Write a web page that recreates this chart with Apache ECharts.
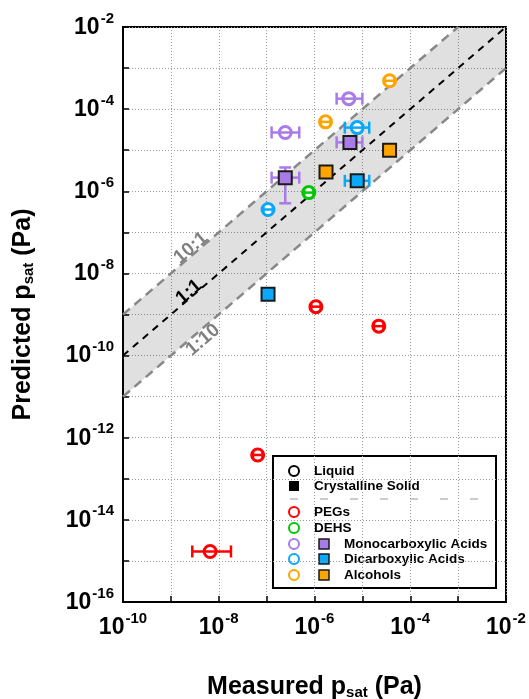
<!DOCTYPE html>
<html><head><meta charset="utf-8">
<script src="https://cdn.jsdelivr.net/npm/echarts@6/dist/echarts.min.js"></script>
<style>html,body{margin:0;padding:0;background:#fff}#c{width:529px;height:699px}</style>
</head><body><div id="c"></div>
<script>
// ---- data (Pa) ----
const pegX   = [6.6e-9, 6.5e-8, 1.07e-6, 2.2e-5];
const pegY   = [1.7e-15, 3.8e-13, 1.55e-9, 5.2e-10];
const pegXLo = [2.8e-9, 5.2e-8, 8.6e-7, 1.75e-5];
const pegXHi = [1.8e-8, 8.2e-8, 1.34e-6, 2.75e-5];

const dehsX   = [7.6e-7];
const dehsY   = [9.3e-7];
const dehsXLo = [6.1e-7];
const dehsXHi = [9.5e-7];

const monoLiqX   = [5.2e-6, 2.45e-7];
const monoLiqY   = [1.8e-4, 2.7e-5];
const monoLiqXLo = [2.9e-6, 1.27e-7];
const monoLiqXHi = [1.0e-5, 4.8e-7];
const monoSolX   = [5.5e-6, 2.45e-7];
const monoSolY   = [1.55e-5, 2.15e-6];
const monoSolXLo = [2.9e-6, 1.27e-7];
const monoSolXHi = [1.0e-5, 4.8e-7];
const monoSolYLo = [1.55e-5, 5.1e-7];
const monoSolYHi = [1.55e-5, 3.8e-6];

const diLiqX   = [7.8e-6, 1.07e-7];
const diLiqY   = [3.55e-5, 3.6e-7];
const diLiqXLo = [4.3e-6, 8.6e-8];
const diLiqXHi = [1.39e-5, 1.34e-7];
const diSolX   = [7.8e-6, 1.07e-7];
const diSolY   = [1.8e-6, 3.1e-9];
const diSolXLo = [4.3e-6, 1.07e-7];
const diSolXHi = [1.39e-5, 1.07e-7];

const alcLiqX   = [3.7e-5, 1.7e-6];
const alcLiqY   = [4.9e-4, 4.9e-5];
const alcLiqXLo = [2.95e-5, 1.36e-6];
const alcLiqXHi = [4.65e-5, 2.14e-6];
const alcSolX   = [3.7e-5, 1.74e-6];
const alcSolY   = [1.0e-5, 2.95e-6];

const line11  = [[1e-10, 1e-10], [1e-2, 1e-2]];
const line101 = [[1e-10, 1e-9], [1e-3, 1e-2]];
const line110 = [[1e-10, 1e-11], [1e-2, 1e-3]];
const bandPoly = [[1e-10, 1e-9], [1e-3, 1e-2], [1e-2, 1e-2], [1e-2, 1e-3], [1e-10, 1e-11]];

const xMin = 1e-10, xMax = 1e-2, yMin = 1e-16, yMax = 1e-2;

// ---- colours ----
const RED = '#ff0000', GREEN = '#00c800', PURPLE = '#a97be6', BLUE = '#0aa8f8', ORANGE = '#ffa500';

function zip(xs, ys) { return xs.map((x, i) => [x, ys[i]]); }
function errData(xs, ys, xlo, xhi, ylo, yhi) {
  return xs.map((x, i) => [x, ys[i], xlo ? xlo[i] : x, xhi ? xhi[i] : x, ylo ? ylo[i] : ys[i], yhi ? yhi[i] : ys[i]]);
}
function errSeries(data, color, z, cap) {
  return {
    type: 'custom', z: z, silent: true, clip: false,
    data: data,
    renderItem: function (params, api) {
      const x = api.value(0), y = api.value(1);
      const xl = api.value(2), xh = api.value(3), yl = api.value(4), yh = api.value(5);
      const st = { stroke: color, lineWidth: 2.5 };
      const ch = [];
      if (xh > xl) {
        const a = api.coord([xl, y]), b = api.coord([xh, y]);
        const c = (b[0] - a[0]) < 14 ? 3 : cap;
        ch.push({ type: 'line', shape: { x1: a[0], y1: a[1], x2: b[0], y2: b[1] }, style: st });
        ch.push({ type: 'line', shape: { x1: a[0], y1: a[1] - c, x2: a[0], y2: a[1] + c }, style: st });
        ch.push({ type: 'line', shape: { x1: b[0], y1: b[1] - c, x2: b[0], y2: b[1] + c }, style: st });
      }
      if (yh > yl) {
        const a = api.coord([x, yl]), b = api.coord([x, yh]);
        ch.push({ type: 'line', shape: { x1: a[0], y1: a[1], x2: b[0], y2: b[1] }, style: st });
        ch.push({ type: 'line', shape: { x1: a[0] - cap, y1: a[1], x2: a[0] + cap, y2: a[1] }, style: st });
        ch.push({ type: 'line', shape: { x1: b[0] - cap, y1: b[1], x2: b[0] + cap, y2: b[1] }, style: st });
      }
      return { type: 'group', children: ch };
    }
  };
}
function liqSeries(data, color) {
  return { type: 'scatter', z: 3, data: data, symbol: 'circle', symbolSize: 12,
    itemStyle: { color: '#fff', borderColor: color, borderWidth: 3, opacity: 1 }, silent: true };
}
function solSeries(data, color) {
  return { type: 'scatter', z: 6, data: data, symbol: 'rect', symbolSize: 13,
    itemStyle: { color: color, borderColor: '#1a1a1a', borderWidth: 2, opacity: 1 }, silent: true };
}

function expLabel(v) {
  const e = Math.round(Math.log10(v));
  if (e % 2 !== 0) return '';
  return '{b|10}{s|' + e + '}';
}
const FF = 'Liberation Sans, Arial, sans-serif';
const labelRich = {
  b: { fontSize: 23, fontWeight: 'bold', fontFamily: FF, color: '#000', verticalAlign: 'bottom', lineHeight: 24 },
  s: { fontSize: 15, fontWeight: 'bold', fontFamily: FF, color: '#000', verticalAlign: 'bottom', lineHeight: 24, padding: [0, 0, 13, 1] }
};
const nameRich = {
  n: { fontSize: 25, fontWeight: 'bold', fontFamily: FF, color: '#000' },
  sub: { fontSize: 15, fontWeight: 'bold', fontFamily: FF, color: '#000', padding: [11, 0, 0, 0] }
};

const chart = echarts.init(document.getElementById('c'), null, { renderer: 'canvas' });

const GL = 123, GT = 27, GW = 383, GH = 575;

const legendTxt = { fontSize: 13.5, fontWeight: 'bold', fontFamily: FF, fill: '#000' };
function ltext(x, y, t) { return { type: 'text', x: x, y: y, style: Object.assign({ text: t, verticalAlign: 'middle' }, legendTxt) }; }
function lcirc(x, y, c) { return { type: 'circle', shape: { cx: x, cy: y, r: 5 }, style: { fill: '#fff', stroke: c, lineWidth: 2 } }; }
function lsq(x, y, c) { return { type: 'rect', shape: { x: x - 5, y: y - 5, width: 10, height: 10 }, style: { fill: c, stroke: '#1a1a1a', lineWidth: 1.5 } }; }

const lineLabelStyle = { fontSize: 19, fontWeight: 'bold', fontFamily: FF, align: 'center', verticalAlign: 'middle' };
const ROT = Math.atan((GH / 14) / (GW / 8));

chart.setOption({
  animation: false,
  backgroundColor: '#fff',
  grid: { left: GL, top: GT, width: GW, height: GH, outerBoundsMode: 'none', containLabel: false,
    show: true, borderColor: '#000', borderWidth: 2, backgroundColor: 'transparent' },
  xAxis: {
    type: 'log', logBase: 10, min: xMin, max: xMax, interval: 1,
    name: '{n|Measured p}{sub|sat}{n| (Pa)}', nameLocation: 'middle', nameGap: 72,
    nameTextStyle: { rich: nameRich },
    axisLine: { show: true, lineStyle: { color: '#000', width: 2 } },
    axisTick: { show: true, inside: true, length: 6, lineStyle: { color: '#000', width: 1.5 } },
    axisLabel: { formatter: expLabel, rich: labelRich, margin: 13 },
    splitLine: { show: true, lineStyle: { color: '#999', type: [1, 2], width: 1 } },
    minorTick: { show: false }
  },
  yAxis: {
    type: 'log', logBase: 10, min: yMin, max: yMax, interval: 1,
    name: '{n|Predicted p}{sub|sat}{n| (Pa)}', nameLocation: 'middle', nameGap: 87, nameRotate: 90,
    nameTextStyle: { rich: nameRich },
    axisLine: { show: true, lineStyle: { color: '#000', width: 2 } },
    axisTick: { show: true, inside: true, length: 6, lineStyle: { color: '#000', width: 1.5 } },
    axisLabel: { formatter: expLabel, rich: labelRich, margin: 9 },
    splitLine: { show: true, lineStyle: { color: '#999', type: [1, 2], width: 1 } }
  },
  series: [
    {
      type: 'custom', z: 1, silent: true, data: [0],
      renderItem: function (params, api) {
        return { type: 'polygon', shape: { points: bandPoly.map(p => api.coord(p)) }, style: { fill: 'rgba(0,0,0,0.12)' } };
      }
    },
    { type: 'line', z: 2, data: line101, symbol: 'none', silent: true, lineStyle: { color: '#888', width: 2.5, type: [9, 6] } },
    { type: 'line', z: 2, data: line110, symbol: 'none', silent: true, lineStyle: { color: '#888', width: 2.5, type: [9, 6] } },
    { type: 'line', z: 2, data: line11, symbol: 'none', silent: true, lineStyle: { color: '#000', width: 2, type: [7, 6] } },

    liqSeries(zip(pegX, pegY), RED),
    liqSeries(zip(dehsX, dehsY), GREEN),
    liqSeries(zip(monoLiqX, monoLiqY), PURPLE),
    liqSeries(zip(diLiqX, diLiqY), BLUE),
    liqSeries(zip(alcLiqX, alcLiqY), ORANGE),

    errSeries(errData(pegX, pegY, pegXLo, pegXHi), RED, 4, 6),
    errSeries(errData(dehsX, dehsY, dehsXLo, dehsXHi), GREEN, 4, 6),
    errSeries(errData(monoLiqX, monoLiqY, monoLiqXLo, monoLiqXHi), PURPLE, 4, 6),
    errSeries(errData(diLiqX, diLiqY, diLiqXLo, diLiqXHi), BLUE, 4, 6),
    errSeries(errData(alcLiqX, alcLiqY, alcLiqXLo, alcLiqXHi), ORANGE, 4, 6),

    errSeries(errData(monoSolX, monoSolY, monoSolXLo, monoSolXHi, monoSolYLo, monoSolYHi), PURPLE, 5, 6),
    errSeries(errData(diSolX, diSolY, diSolXLo, diSolXHi), BLUE, 5, 6),

    solSeries(zip(monoSolX, monoSolY), PURPLE),
    solSeries(zip(diSolX, diSolY), BLUE),
    solSeries(zip(alcSolX, alcSolY), ORANGE)
  ],
  graphic: [
    { type: 'text', x: 191, y: 248, rotation: ROT, z: 10, style: Object.assign({ text: '10:1', fill: '#808080' }, lineLabelStyle) },
    { type: 'text', x: 189, y: 292, rotation: ROT, z: 10, style: Object.assign({ text: '1:1', fill: '#000' }, lineLabelStyle) },
    { type: 'text', x: 203, y: 340, rotation: ROT, z: 10, style: Object.assign({ text: '1:10', fill: '#808080' }, lineLabelStyle) },
    {
      type: 'group', z: 20,
      children: [
        { type: 'rect', shape: { x: 273, y: 456, width: 223, height: 132 }, style: { fill: '#fff', stroke: '#000', lineWidth: 2 } },
        { type: 'circle', shape: { cx: 294, cy: 471, r: 5 }, style: { fill: '#fff', stroke: '#000', lineWidth: 2 } },
        ltext(314, 471, 'Liquid'),
        { type: 'rect', shape: { x: 289, y: 481, width: 10, height: 10 }, style: { fill: '#000' } },
        ltext(314, 486, 'Crystalline Solid'),
        { type: 'line', shape: { x1: 290, y1: 499, x2: 482, y2: 499 }, style: { stroke: '#999', lineWidth: 1.2, lineDash: [8, 22] } },
        lcirc(294, 512, RED), ltext(314, 512, 'PEGs'),
        lcirc(294, 528, GREEN), ltext(314, 528, 'DEHS'),
        lcirc(294, 544, PURPLE), lsq(324, 544, PURPLE), ltext(344, 544, 'Monocarboxylic Acids'),
        lcirc(294, 559, BLUE), lsq(324, 559, BLUE), ltext(344, 559, 'Dicarboxylic Acids'),
        lcirc(294, 575, ORANGE), lsq(324, 575, ORANGE), ltext(344, 575, 'Alcohols')
      ]
    }
  ]
});
</script></body></html>
